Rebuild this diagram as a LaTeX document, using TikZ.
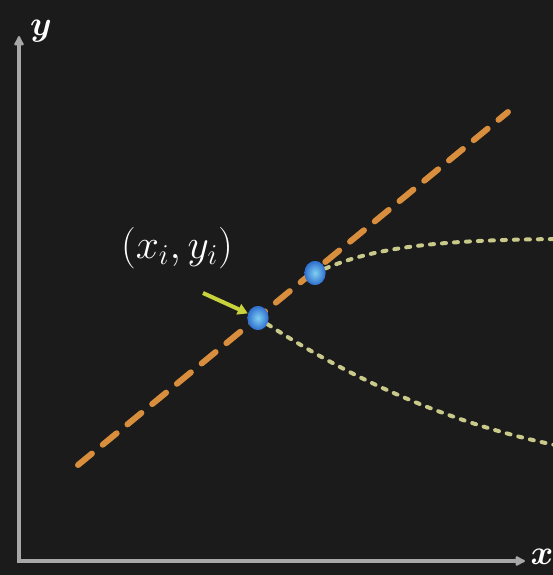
\documentclass[tikz,border=0pt]{standalone}
\usepackage{amsmath}
\usepackage{tikz}
\usetikzlibrary{positioning, arrows.meta, calc, shapes.geometric}
\definecolor{bgdark}{HTML}{1B1B1B}
\definecolor{axisgray}{HTML}{A8A8A8}
\definecolor{fitorange}{HTML}{D88E3C}
\definecolor{curveyellow}{HTML}{C9C98A}
\definecolor{pointeryellow}{HTML}{C8D23C}
\definecolor{dotblue}{HTML}{2F6FD0}
\definecolor{dotcyan}{HTML}{7FD0F0}
\tikzset{
  axis/.style={line width=2pt, draw=axisgray, {Latex[round,length=6pt,width=6pt]}-{Latex[round,length=6pt,width=6pt]}},
  fitline/.style={line width=3pt, draw=fitorange, dash pattern=on 9pt off 7pt, line cap=round},
  spread/.style={line width=2pt, draw=curveyellow, dash pattern=on 2pt off 4pt, line cap=round},
  sample/.style={ellipse, minimum width=10.5pt, minimum height=12pt, inner sep=0pt, shading=radial, inner color=dotcyan, outer color=dotblue},
  pointer/.style={line width=2pt, draw=pointeryellow, -{Triangle[length=5pt,width=5.5pt]}, fill=pointeryellow},
  axlabel/.style={text=white, font=\fontsize{17}{20}\selectfont\bfseries}
}
\begin{document}
\begin{tikzpicture}[x=0.5pt, y=-0.5pt]
    % background and frame
    \fill[bgdark] (0,0) rectangle (553,575);
    \useasboundingbox (0,0) rectangle (553,575);

    % axes
    \coordinate (origin) at (19,561);
    \coordinate (ytip) at (19,36);
    \coordinate (xtip) at (525,561);
    \draw[axis] (ytip) -- (origin) -- (xtip);
    \node (ylab) [axlabel] at (41,31) {$\boldsymbol{y}$};
    \node (xlab) [axlabel] at (542,557) {$\boldsymbol{x}$};

    % fitted line
    \coordinate (fitstart) at (78,465);
    \coordinate (fitend) at (508,112);
    \draw[fitline] (fitstart) -- (fitend);

    % spread curves
    \node (p1) [sample] at (258,318) {};
    \node (p2) [sample] at (315,273) {};
    \coordinate (upend) at (560,239);
    \coordinate (lowend) at (560,446);
    \draw[spread] (p2) .. controls (380,245) and (450,240) .. (upend);
    \draw[spread] (p1) .. controls (330,365) and (430,420) .. (lowend);
    \node (p1) [sample] at (258,318) {};
    \node (p2) [sample] at (315,273) {};

    % label
    \node (lbl) [text=white, font=\fontsize{22}{26}\selectfont] at (177,248) {$(x_i,y_i)$};
    \coordinate (ptail) at (203,293);
    \draw[pointer] (ptail) -- (p1);
\end{tikzpicture}
\end{document}
